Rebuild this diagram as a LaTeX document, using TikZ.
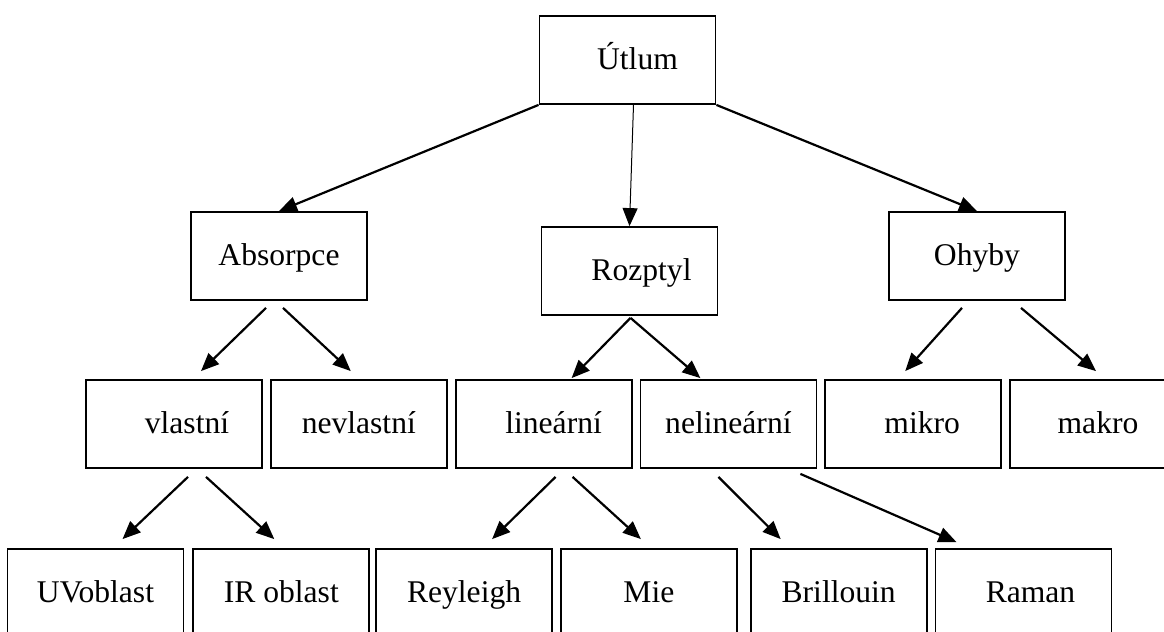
\documentclass[tikz,border=0pt]{standalone}
\usepackage{fontspec}
\setmainfont{Liberation Serif}
\usetikzlibrary{positioning,arrows.meta}

\begin{document}
\begin{tikzpicture}[
  x=0.5pt, y=0.5pt,
  font=\fontsize{15.8pt}{18pt}\selectfont,
  field/.style={draw, line width=0.9pt, minimum width=88pt, minimum height=44pt,
                inner sep=0pt, text height=9pt, text depth=0pt},
  nudge/.style={execute at begin node={\hspace*{#1}}},
  arr/.style={-{Triangle[length=9pt, width=7.5pt]}, line width=1.1pt},
]
\useasboundingbox (0,0) rectangle (1164,-632);

\node[field, nudge=10pt] (ut) at (627.5,-60) {Útlum};
\node[field] (ab) at (279,-256) {Absorpce};
\node[field, nudge=12pt] (ro) at (629.5,-271) {Rozptyl};
\node[field] (oh) at (977,-256) {Ohyby};

\node[field, nudge=13pt] (vl) at (174,-424) {vlastní};
\node[field, right=3.5pt of vl] (nv) {nevlastní};
\node[field, nudge=10pt, right=3.5pt of nv] (li) {lineární};
\node[field, right=3.5pt of li] (nl) {nelineární};
\node[field, nudge=9pt, right=3.5pt of nl] (mi) {mikro};
\node[field, right=3.5pt of mi] (ma) {makro};

\node[field] (uv) at (95.5,-593) {UVoblast};
\node[field, right=4pt of uv] (ir) {IR oblast};
\node[field, right=2.5pt of ir] (rey) {Reyleigh};
\node[field, right=3.5pt of rey] (mie) {Mie};
\node[field, right=6pt of mie] (bri) {Brillouin};
\node[field, nudge=7pt, right=3.5pt of bri] (ram) {Raman};

\draw[arr] (ut.south west) -- (ab.north);
\draw[arr, line width=0.5pt] ([xshift=3]ut.south) -- (ro.north);
\draw[arr] (ut.south east) -- (oh.north);

\draw[arr] ([shift={(-13,-7)}]ab.south) -- ([shift={(27,8)}]vl.north);
\draw[arr] ([shift={(4,-7)}]ab.south) -- ([shift={(-8,8)}]nv.north);
\draw[arr] ([shift={(1,-2)}]ro.south) -- ([shift={(28,1)}]li.north);
\draw[arr] ([shift={(1,-2)}]ro.south) -- ([shift={(-28,1)}]nl.north);
\draw[arr] ([shift={(-15,-7)}]oh.south) -- ([shift={(-8,8)}]mi.north);
\draw[arr] ([shift={(44,-7)}]oh.south) -- ([shift={(-2,8)}]ma.north);

\draw[arr] ([shift={(14,-8)}]vl.south) -- ([shift={(27,9)}]uv.north);
\draw[arr] ([shift={(32,-8)}]vl.south) -- ([shift={(-7,9)}]ir.north);
\draw[arr] ([shift={(12,-8)}]li.south) -- ([shift={(28,9)}]rey.north);
\draw[arr] ([shift={(29,-8)}]li.south) -- ([shift={(-8,9)}]mie.north);
\draw[arr] ([shift={(-10,-8)}]nl.south) -- ([shift={(-58,9)}]bri.north);
\draw[arr] ([shift={(72,-5)}]nl.south) -- ([shift={(-67,6)}]ram.north);

\end{tikzpicture}
\end{document}
